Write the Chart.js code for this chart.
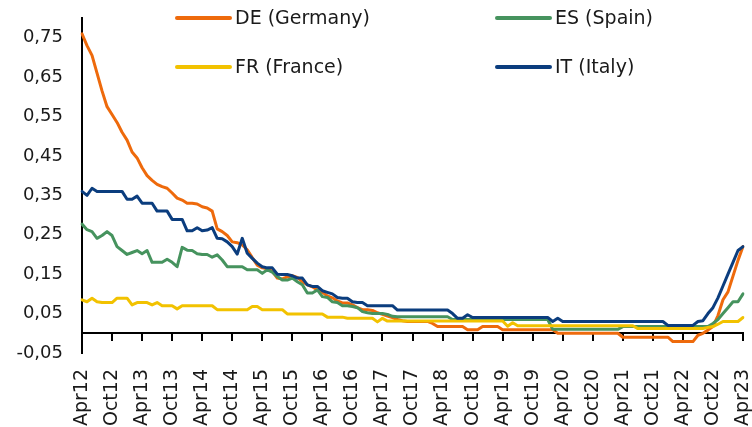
<!DOCTYPE html>
<html><head><meta charset="utf-8">
<script src="https://cdn.jsdelivr.net/npm/chart.js@4"></script>
<style>html,body{margin:0;padding:0;background:#fff;overflow:hidden}#wrap{width:752px;height:427px;position:relative}</style>
</head><body><div id="wrap"><canvas id="c"></canvas></div>
<script>
// ---- categories (monthly, Apr12 .. Apr23) ----
const monthNames = ['Jan','Feb','Mar','Apr','May','Jun','Jul','Aug','Sep','Oct','Nov','Dec'];
const months = [];
for (let k = 0; k < 133; k++) { months.push(monthNames[(3 + k) % 12] + String(12 + Math.floor((3 + k) / 12))); }

// ---- y tick values ----
const yTicks = [-0.05, 0.05, 0.15, 0.25, 0.35, 0.45, 0.55, 0.65, 0.75];

// ---- series labels ----
const seriesNames = ['DE (Germany)', 'ES (Spain)', 'FR (France)', 'IT (Italy)'];

// ---- series values ----
const DE = [0.76,0.73,0.705,0.66,0.615,0.575,0.555,0.535,0.51,0.49,0.46,0.445,0.42,0.40,0.388,0.378,0.372,0.368,0.356,0.343,
0.338,0.33,0.33,0.328,0.321,0.318,0.31,0.265,0.258,0.248,0.232,0.23,0.224,0.212,0.192,0.173,0.166,0.164,0.157,0.14,
0.138,0.143,0.146,0.142,0.131,0.123,0.118,0.11,0.104,0.095,0.09,0.082,0.077,0.077,0.072,0.065,0.06,0.06,0.058,0.052,
0.048,0.044,0.04,0.035,0.032,0.03,0.03,0.03,0.03,0.03,0.025,
0.017,0.017,0.017,0.017,0.017,0.017,
0.009,0.009,0.009,
0.017,0.017,0.017,0.017,
0.009,0.009,0.009,0.009,0.009,0.009,0.009,0.009,0.009,0.009,0.009,
0,0,0,0,0,0,0,0,0,0,0,0,0,
-0.01,-0.01,-0.01,-0.01,-0.01,-0.01,-0.01,-0.01,-0.01,-0.01,
-0.021,-0.021,-0.021,-0.021,-0.021,
-0.005,0,0.008,0.017,0.045,0.085,0.105,0.145,0.185,0.22];

const ES = [0.277,0.263,0.258,0.241,0.248,0.258,0.248,0.22,0.21,0.2,0.205,0.21,0.202,0.21,0.18,0.18,0.18,0.188,0.18,0.169,
0.218,0.211,0.21,0.202,0.2,0.2,0.193,0.199,0.186,0.169,0.169,0.169,0.169,0.161,0.161,0.161,0.152,0.161,0.155,0.144,
0.135,0.135,0.14,0.131,0.123,0.102,0.102,0.11,0.093,0.091,0.08,0.078,0.07,0.07,0.068,0.065,0.055,0.052,0.05,0.05,
0.05,0.048,0.043,
0.042,0.042,0.042,0.042,0.042,0.042,0.042,0.042,0.042,0.042,0.042,
0.035,0.035,0.035,0.035,0.035,0.035,0.035,0.035,0.035,0.035,0.035,0.035,0.035,0.035,0.035,0.035,0.035,0.035,0.035,0.035,
0.01,0.01,0.01,0.01,0.01,0.01,0.01,0.01,0.01,0.01,0.01,0.01,0.01,0.01,
0.017,0.017,0.017,0.017,0.017,0.017,0.017,0.017,0.017,0.017,0.017,0.017,0.017,0.017,0.017,0.017,0.017,
0.017,0.025,0.035,0.05,0.065,0.08,0.08,0.10];

const FR = [0.085,0.08,0.089,0.08,0.078,0.078,0.078,0.089,0.089,0.089,0.072,0.078,0.078,0.078,0.072,0.078,0.07,0.07,0.07,0.062,
0.07,0.07,0.07,0.07,0.07,0.07,0.07,
0.06,0.06,0.06,0.06,0.06,0.06,0.06,
0.068,0.068,
0.06,0.06,0.06,0.06,0.06,
0.049,0.049,0.049,0.049,0.049,0.049,0.049,0.049,
0.041,0.041,0.041,0.041,
0.038,0.038,0.038,0.038,0.038,0.038,
0.029,0.038,
0.031,0.031,0.031,0.031,0.031,0.031,0.031,0.031,0.031,0.031,0.031,0.031,0.031,0.031,0.031,0.031,0.031,0.031,0.031,0.031,0.031,0.031,0.031,0.031,
0.018,0.027,
0.019,0.019,0.019,0.019,0.019,0.019,0.019,0.019,0.019,0.019,0.019,0.019,0.019,0.019,0.019,0.019,0.019,0.019,0.019,0.019,0.019,0.019,0.019,0.019,
0.012,0.012,0.012,0.012,0.012,0.012,0.012,0.012,0.012,0.012,0.012,0.012,0.012,0.012,
0.015,0.017,0.023,0.03,0.03,0.03,0.03,0.04];

const IT = [0.36,0.35,0.368,0.36,0.36,0.36,0.36,0.36,0.36,0.34,0.34,0.348,0.33,0.33,0.33,0.31,0.31,0.31,0.289,0.289,
0.289,0.26,0.26,0.268,0.26,0.262,0.268,0.241,0.24,0.232,0.22,0.201,0.241,0.203,0.19,0.178,0.169,0.166,0.166,0.15,
0.149,0.149,0.146,0.14,0.14,0.123,0.119,0.119,0.108,0.104,0.1,0.091,0.089,0.089,0.08,0.078,0.078,
0.07,0.07,0.07,0.07,0.07,0.07,
0.059,0.059,0.059,0.059,0.059,0.059,0.059,0.059,0.059,0.059,0.059,
0.05,0.038,0.038,0.047,
0.04,0.04,0.04,0.04,0.04,0.04,0.04,0.04,0.04,0.04,0.04,0.04,0.04,0.04,0.04,0.04,
0.03,0.038,
0.03,0.03,0.03,0.03,0.03,0.03,0.03,0.03,0.03,0.03,0.03,0.03,0.03,0.03,0.03,0.03,0.03,0.03,0.03,0.03,0.03,
0.02,0.02,0.02,0.02,0.02,0.02,
0.03,0.032,0.05,0.065,0.09,0.12,0.15,0.18,0.21,0.22];

const seriesColors = ['#EE6A0C', '#46935E', '#F2C200', '#0B3D7E'];
const FONT = '"DejaVu Sans", sans-serif';
const TXT = '#1a1a1a';

const legendPlugin = {
  id: 'customLegend',
  afterDraw(chart) {
    const {ctx, chartArea} = chart;
    const cols = [95, 415], rows = [0, 49];
    ctx.save();
    ctx.font = '19px ' + FONT;
    ctx.textBaseline = 'middle';
    ctx.lineCap = 'round';
    chart.data.datasets.forEach((ds, i) => {
      const x = chartArea.left + cols[i % 2];
      const y = chartArea.top + rows[Math.floor(i / 2)];
      ctx.strokeStyle = ds.borderColor;
      ctx.lineWidth = 4;
      ctx.beginPath(); ctx.moveTo(x, y); ctx.lineTo(x + 53, y); ctx.stroke();
      ctx.fillStyle = TXT;
      ctx.fillText(ds.label, x + 58, y + 1);
    });
    ctx.restore();
  }
};

const seriesData = [DE, ES, FR, IT];
new Chart(document.getElementById('c'), {
  type: 'line',
  data: {
    labels: months,
    datasets: seriesData.map((d, i) => ({
      label: seriesNames[i], data: d, borderColor: seriesColors[i], backgroundColor: seriesColors[i],
      borderWidth: 3, pointRadius: 0, tension: 0, borderJoinStyle: 'round', borderCapStyle: 'round',
      order: 4 - i
    }))
  },
  options: {
    responsive: true, maintainAspectRatio: false, animation: false,
    layout: { padding: { top: 18, right: 9, left: 0, bottom: 0 } },
    plugins: { legend: { display: false }, tooltip: { enabled: false } },
    scales: {
      x: {
        type: 'category', position: 'bottom',
        grid: { display: false }, border: { display: false },
        ticks: {
          autoSkip: false, maxRotation: 90, minRotation: 90, padding: 8,
          color: TXT, font: { family: FONT, size: 19 },
          callback: function (v, idx) { return idx % 6 === 0 ? this.getLabelForValue(v) : ''; }
        },
        afterFit: s => { s.height = 74; s.paddingLeft = 0; s.paddingRight = 0; }
      },
      x2: {
        type: 'category', position: { y: 0 },
        min: months[0], max: months[months.length - 1],
        grid: { display: true, drawOnChartArea: false, drawTicks: true, tickLength: 7, lineWidth: 2,
          color: ctx => (ctx.index % 6 === 0 ? '#000' : 'rgba(0,0,0,0)') },
        border: { display: true, color: '#000', width: 2 },
        ticks: { display: false, autoSkip: false }
      },
      y: {
        min: -0.05, max: 0.8,
        afterBuildTicks: s => { s.ticks = yTicks.map(v => ({ value: v })); },
        afterFit: s => { s.width = 82; s.paddingTop = 0; s.paddingBottom = 0; },
        grid: { display: true, drawOnChartArea: false, drawTicks: false, color: 'rgba(0,0,0,0)' },
        border: { display: true, color: '#000', width: 2 },
        ticks: {
          padding: 19, color: TXT, font: { family: FONT, size: 18 },
          callback: v => v.toFixed(2).replace('.', ',')
        }
      }
    }
  },
  plugins: [legendPlugin]
});
</script>
</body></html>
